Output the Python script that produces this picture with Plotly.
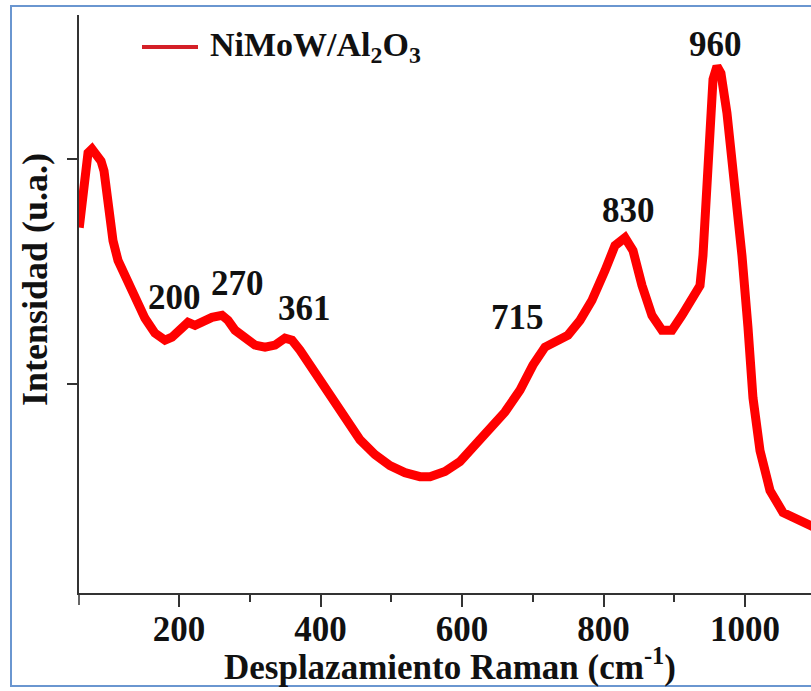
import plotly.graph_objects as go

# Raman shift (cm-1) and intensity (a.u.)
raman_shift = [59, 65.8, 71.4, 77, 84, 89.8, 94, 99.6, 106.7, 113.8, 123.7, 137.8, 151.9, 166,
               180.2, 190, 201.4, 212.7, 222.6, 233.9, 246.6, 260.8, 269.3, 279.2, 293.3, 307.4,
               321.6, 335.7, 349.8, 359.7, 371, 385.2, 399.3, 416.3, 434.6, 455.8, 477, 498.2,
               519.4, 540.6, 554.8, 576, 597.2, 618.4, 639.6, 660.8, 682, 700.3, 717.3, 731.4,
               749.8, 766.8, 783.7, 802.1, 816.2, 830.4, 841.7, 854.4, 868.5, 882.7, 896.8,
               910.9, 926.5, 936.4, 940.6, 944.9, 949.1, 954.8, 960.4, 966, 974.5, 985.8, 995.7,
               1004.2, 1011.3, 1021.2, 1035.3, 1053.7, 1073.5, 1093.3, 1100]
intensity = [1.695, 1.925, 2.027, 2.044, 2.013, 1.991, 1.947, 1.792, 1.637, 1.549, 1.482, 1.385,
             1.292, 1.226, 1.195, 1.208, 1.239, 1.274, 1.261, 1.283, 1.296, 1.305, 1.283, 1.239,
             1.208, 1.173, 1.164, 1.173, 1.204, 1.195, 1.150, 1.084, 1.009, 0.929, 0.841, 0.752,
             0.686, 0.637, 0.606, 0.588, 0.588, 0.611, 0.655, 0.730, 0.796, 0.876, 0.973, 1.084,
             1.164, 1.186, 1.217, 1.283, 1.372, 1.504, 1.615, 1.650, 1.593, 1.438, 1.305, 1.239,
             1.239, 1.305, 1.381, 1.438, 1.571, 1.858, 2.124, 2.354, 2.412, 2.381, 2.204, 1.889,
             1.571, 1.252, 0.938, 0.704, 0.527, 0.429, 0.398, 0.367, 0.36]

peak_labels = ["200", "270", "361", "715", "830", "960"]
peak_label_x = [194, 282, 378, 679, 835, 959]
peak_label_y = [1.385, 1.447, 1.336, 1.296, 1.770, 2.509]

x_ticks = [200, 400, 600, 800, 1000]
x_minor_ticks = [300, 500, 700, 900]
y_ticks = [1, 2]
series_name = "NiMoW/Al<sub>2</sub>O<sub>3</sub>"

W, H = 811, 691
ML, MR, MT, MB = 79, 0, 15, 98
PW = W - ML - MR
PH = H - MT - MB

def px(xp):
    return (xp - ML) / PW

def py(yp):
    return (H - MB - yp) / PH

FONT = "Liberation Serif"
INK = "#111111"

fig = go.Figure()
fig.add_trace(go.Scatter(x=raman_shift, y=intensity, mode="lines",
                         line=dict(color="#FF0000", width=9), showlegend=False,
                         name="NiMoW/Al2O3", hoverinfo="skip"))

annotations = []
for t, xv, yv in zip(peak_labels, peak_label_x, peak_label_y):
    annotations.append(dict(x=xv, y=yv, xref="x", yref="y", text=t, showarrow=False,
                            font=dict(family=FONT, size=35, color=INK, weight="bold")))

annotations.append(dict(x=px(208), y=py(47), xref="paper", yref="paper", xanchor="left",
                        yanchor="middle", text=series_name, showarrow=False,
                        font=dict(family=FONT, size=34, color=INK, weight="bold")))
annotations.append(dict(x=px(450), y=py(664), xref="paper", yref="paper", xanchor="center",
                        yanchor="middle", text="Desplazamiento Raman (cm<sup>-1</sup>)",
                        showarrow=False, font=dict(family=FONT, size=35, color=INK, weight="bold")))
annotations.append(dict(x=px(35), y=py(280), xref="paper", yref="paper", xanchor="center",
                        yanchor="middle", text="Intensidad (u.a.)", textangle=-90,
                        showarrow=False, font=dict(family=FONT, size=36, color=INK, weight="bold")))

shapes = [
    dict(type="rect", xref="paper", yref="paper", x0=px(11), x1=px(830), y0=py(686), y1=py(6),
         line=dict(color="#6A96D0", width=2), layer="below"),
    dict(type="line", xref="paper", yref="paper", x0=px(142), x1=px(198), y0=py(47), y1=py(47),
         line=dict(color="#D42027", width=4)),
    dict(type="line", xref="paper", yref="paper", x0=0, x1=0, y0=0, y1=py(605),
         line=dict(color="#333333", width=1.5)),
]

x0v = 200 - (179 - ML) / 0.7075
x1v = x0v + PW / 0.7075
y0v = 1 - (593 - 384) / 225
y1v = 2 + (159 - MT) / 225

fig.update_layout(
    width=W, height=H,
    margin=dict(l=ML, r=MR, t=MT, b=MB),
    paper_bgcolor="white", plot_bgcolor="white",
    showlegend=False,
    annotations=annotations,
    shapes=shapes,
    xaxis=dict(range=[x0v, x1v], tickvals=x_ticks, ticks="outside", ticklen=12, tickwidth=1.5,
               tickcolor="#333333", showline=True, linecolor="#333333", linewidth=1.5,
               showgrid=False, zeroline=False, ticklabelstandoff=-8,
               tickfont=dict(family=FONT, size=35, color=INK, weight="bold"),
               minor=dict(tickvals=x_minor_ticks, ticks="outside", ticklen=7,
                          tickwidth=1.5, tickcolor="#333333")),
    yaxis=dict(range=[y0v, y1v], tickvals=y_ticks, ticks="outside", ticklen=10, tickwidth=1.5,
               tickcolor="#333333", showline=True, linecolor="#333333", linewidth=1.5,
               showticklabels=False, showgrid=False, zeroline=False),
)

fig.write_html("out.html", config={"displayModeBar": False},
               post_script="document.body.style.margin='0';document.body.style.padding='0';"
                           "document.body.style.overflow='hidden';")
